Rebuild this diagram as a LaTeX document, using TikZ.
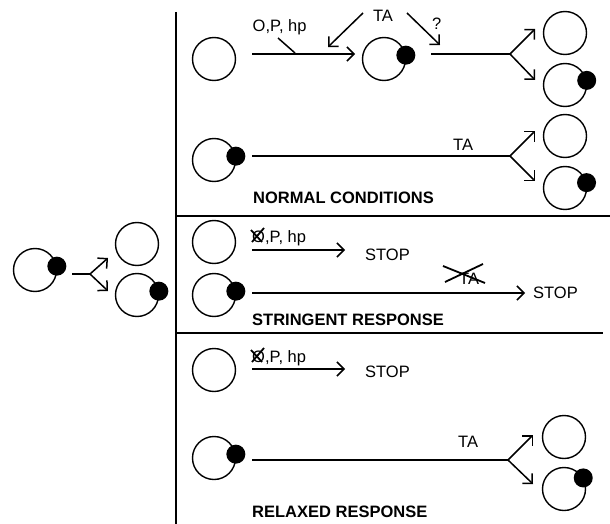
\documentclass[tikz,border=0pt]{standalone}
\usepackage{fontspec}
\setmainfont{Liberation Sans}
\usetikzlibrary{arrows.meta}
\begin{document}
\begin{tikzpicture}[x=1pt,y=-1pt,
  cell/.style={circle,draw,line width=1.4pt,minimum size=43pt,inner sep=0pt},
  dot/.style={circle,fill,minimum size=19pt,inner sep=0pt},
  lbl/.style={anchor=base west,inner sep=0pt,font=\fontsize{16.5}{18}\selectfont},
  head/.style={anchor=base west,inner sep=0pt,font=\fontsize{16.5}{18}\selectfont\bfseries},
  wire/.style={line width=1.5pt},
  arr/.style={wire,-{Straight Barb[length=7pt,width=14pt]}},
  cross/.style={line width=1.8pt},
  rule/.style={line width=1.5pt}]
\useasboundingbox (0,0) rectangle (610,524);

% dividers
\coordinate (vt) at (176,12);  \coordinate (vb) at (176,524);
\coordinate (h1a) at (176,216); \coordinate (h1b) at (610,216);
\coordinate (h2a) at (176,333); \coordinate (h2b) at (603,333);
\draw[rule] (vt) -- (vb);
\draw[rule] (h1a) -- (h1b);
\draw[rule] (h2a) -- (h2b);

% left: replication of the plasmid-bearing cell
\node[cell] (L) at (35,270) {};
\node[dot] (Ld) at (L.10) {};
\coordinate (Ls) at (72,274); \coordinate (Lf) at (90,274);
\coordinate (Lu) at (108,258); \coordinate (Ll) at (108,291);
\draw[wire] (Ls) -- (Lf);
\draw[arr] (Lf) -- (Lu);
\draw[arr] (Lf) -- (Ll);
\node[cell] (La) at (137,244) {};
\node[cell] (Lb) at (137,295) {};
\node[dot] (Lbd) at (Lb.10) {};

% ---------- normal conditions ----------
\node[cell] (n1a) at (214,59) {};
\coordinate (n1s) at (252,54); \coordinate (n1e) at (355,54);
\draw[arr] (n1s) -- (n1e);
\node[lbl] (n1l) at (252.5,32) {O,P, hp};
\coordinate (tk1) at (278,38); \coordinate (tk2) at (295,53);
\draw[wire] (tk1) -- (tk2);
\node[lbl,anchor=base] (n1ta) at (383,22) {TA};
\coordinate (ta1s) at (363,13); \coordinate (ta1e) at (328,47);
\coordinate (ta2s) at (407,13); \coordinate (ta2e) at (440,45);
\draw[arr] (ta1s) -- (ta1e);
\draw[arr] (ta2s) -- (ta2e);
\node[lbl] (n1q) at (432,30) {?};
\node[cell] (n1b) at (384,59) {};
\node[dot] (n1bd) at (n1b.10) {};
\coordinate (n1m) at (431,54); \coordinate (n1f) at (510,54);
\coordinate (n1u) at (535,29); \coordinate (n1d) at (535,80);
\draw[wire] (n1m) -- (n1f);
\draw[arr] (n1f) -- (n1u);
\draw[arr] (n1f) -- (n1d);
\node[cell] (n1c) at (565,33) {};
\node[cell] (n1x) at (565,85) {};
\node[dot] (n1xd) at (n1x.12) {};

\node[cell] (n2a) at (214,160) {};
\node[dot] (n2ad) at (n2a.10) {};
\coordinate (n2s) at (252,156); \coordinate (n2f) at (510,156);
\coordinate (n2u) at (535,131); \coordinate (n2d) at (535,181);
\draw[wire] (n2s) -- (n2f);
\draw[arr] (n2f) -- (n2u);
\draw[arr] (n2f) -- (n2d);
\node[lbl] (n2ta) at (453,150) {TA};
\node[cell] (n2c) at (565,136) {};
\node[cell] (n2x) at (565,188) {};
\node[dot] (n2xd) at (n2x.14) {};
\node[head] (nt) at (253,203) {NORMAL CONDITIONS};

% ---------- stringent response ----------
\node[cell] (s1a) at (214,242) {};
\node[lbl] (s1l) at (252,242) {O,P, hp};
\coordinate (s1x1) at (251,230); \coordinate (s1x2) at (262,242);
\coordinate (s1x3) at (252,242); \coordinate (s1x4) at (264,228);
\draw[cross] (s1x1) -- (s1x2);
\draw[cross] (s1x3) -- (s1x4);
\coordinate (s1s) at (252,250); \coordinate (s1e) at (345,250);
\draw[arr] (s1s) -- (s1e);
\node[lbl] (s1stop) at (365,260) {STOP};

\node[cell] (s2a) at (214,295) {};
\node[dot] (s2ad) at (s2a.10) {};
\coordinate (s2s) at (252,293); \coordinate (s2e) at (525,293);
\draw[arr] (s2s) -- (s2e);
\node[lbl] (s2stop) at (533,298) {STOP};
\node[lbl] (s2ta) at (459,284) {TA};
\coordinate (s2x1) at (443,266); \coordinate (s2x2) at (485,283);
\coordinate (s2x3) at (445,282); \coordinate (s2x4) at (483,264);
\draw[cross] (s2x1) -- (s2x2);
\draw[cross] (s2x3) -- (s2x4);
\node[head] (st) at (252,325) {STRINGENT RESPONSE};

% ---------- relaxed response ----------
\node[cell] (r1a) at (214,370) {};
\node[lbl] (r1l) at (252,362) {O,P, hp};
\coordinate (r1x1) at (251,350); \coordinate (r1x2) at (262,362);
\coordinate (r1x3) at (252,362); \coordinate (r1x4) at (264,348);
\draw[cross] (r1x1) -- (r1x2);
\draw[cross] (r1x3) -- (r1x4);
\coordinate (r1s) at (252,369); \coordinate (r1e) at (345,369);
\draw[arr] (r1s) -- (r1e);
\node[lbl] (r1stop) at (365,377) {STOP};

\node[cell] (r2a) at (214,458) {};
\node[dot] (r2ad) at (r2a.10) {};
\coordinate (r2s) at (252,460); \coordinate (r2f) at (508,460);
\coordinate (r2u) at (533,435); \coordinate (r2d) at (533,484);
\draw[wire] (r2s) -- (r2f);
\draw[arr] (r2f) -- (r2u);
\draw[arr] (r2f) -- (r2d);
\node[lbl] (r2ta) at (458,447) {TA};
\node[cell] (r2c) at (564,437) {};
\node[cell] (r2x) at (564,489) {};
\node[dot] (r2xd) at (r2x.30) {};
\node[head] (rt) at (252,517) {RELAXED RESPONSE};
\end{tikzpicture}
\end{document}
